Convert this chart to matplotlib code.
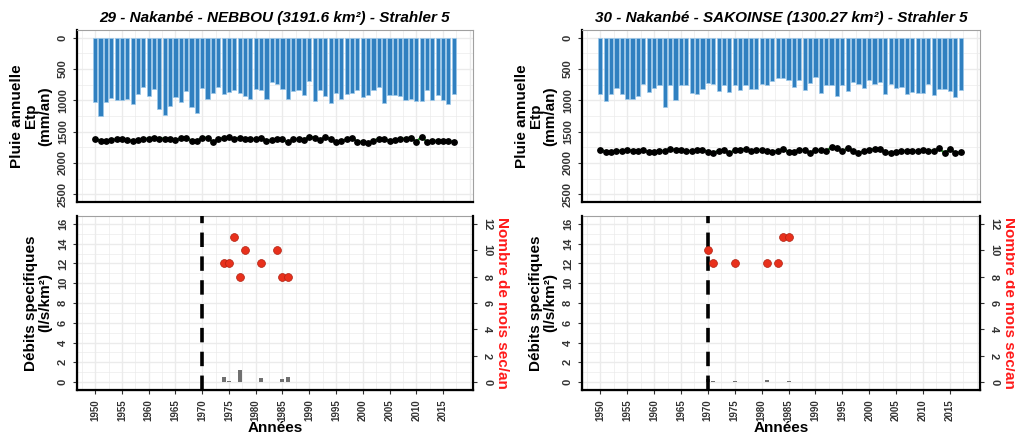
#!/usr/bin/env python3
"""
Pluie annuelle / Etp et debits specifiques - stations 29 et 30 (Nakanbe)
"""

import numpy as np
import matplotlib
matplotlib.use("Agg")
import matplotlib.pyplot as plt
from matplotlib.ticker import MultipleLocator

plt.rcParams['font.family'] = ['Liberation Sans', 'DejaVu Sans']

years = list(range(1950, 2018))

# ---- station 29 : NEBBOU ----
title_29 = "29 - Nakanbé - NEBBOU (3191.6 km²) - Strahler 5"
pluie_29 = [1025, 1250, 1025, 963, 1000, 990, 973, 1057, 900, 790,
            936, 815, 1131, 1241, 1084, 952, 1025, 857, 1105, 1210,
            805, 973, 884, 790, 894, 868, 842, 884, 926, 978,
            820, 842, 973, 710, 742, 820, 973, 857, 831, 910,
            689, 1015, 831, 926, 1041, 884, 978, 900, 884, 842,
            952, 910, 842, 794, 1041, 910, 910, 936, 990, 973,
            1015, 1015, 842, 1000, 910, 1000, 1057, 894]
etp_29 = [1610, 1646, 1646, 1636, 1620, 1620, 1636, 1646, 1636, 1620,
          1610, 1594, 1610, 1610, 1620, 1636, 1604, 1594, 1646, 1646,
          1604, 1594, 1673, 1610, 1604, 1578, 1620, 1594, 1610, 1620,
          1620, 1594, 1646, 1636, 1610, 1620, 1673, 1620, 1620, 1631,
          1578, 1594, 1636, 1583, 1620, 1673, 1657, 1620, 1594, 1662,
          1662, 1683, 1646, 1610, 1620, 1646, 1631, 1620, 1610, 1594,
          1662, 1583, 1662, 1646, 1646, 1657, 1657, 1662]
debit_years_29 = [1974, 1975, 1977, 1978, 1981, 1984, 1985, 1986]
debit_29 = [0.5, 0.15, 1.25, 0.03, 0.45, 0.05, 0.35, 0.5]
sec_years_29 = [1974, 1975, 1976, 1977, 1978, 1981, 1984, 1985, 1986]
mois_sec_29 = [9, 9, 11, 8, 10, 9, 10, 8, 8]

# ---- station 30 : SAKOINSE ----
title_30 = "30 - Nakanbé - SAKOINSE (1300.27 km²) - Strahler 5"
pluie_30 = [905, 1010, 894, 799, 894, 984, 973, 931, 735, 868,
            799, 762, 1106, 751, 1000, 762, 762, 883, 894, 815,
            720, 735, 857, 762, 868, 751, 841, 762, 815, 815,
            746, 762, 698, 640, 640, 672, 788, 682, 841, 725,
            630, 878, 762, 751, 936, 762, 852, 709, 746, 799,
            682, 746, 709, 905, 735, 804, 788, 894, 868, 878,
            878, 746, 910, 815, 825, 852, 947, 831]
etp_30 = [1788, 1820, 1830, 1809, 1804, 1794, 1804, 1804, 1794, 1830,
          1830, 1815, 1804, 1778, 1794, 1794, 1804, 1815, 1794, 1788,
          1820, 1841, 1804, 1794, 1846, 1794, 1788, 1778, 1815, 1788,
          1794, 1804, 1820, 1804, 1778, 1820, 1820, 1794, 1794, 1841,
          1794, 1794, 1804, 1752, 1767, 1815, 1762, 1804, 1841, 1815,
          1788, 1778, 1778, 1830, 1841, 1830, 1815, 1804, 1804, 1815,
          1794, 1804, 1804, 1767, 1841, 1778, 1841, 1830]
debit_years_30 = [1970, 1971, 1975, 1981, 1983, 1984, 1985]
debit_30 = [0.3, 0.08, 0.1, 0.25, 0.04, 0.04, 0.1]
sec_years_30 = [1970, 1971, 1975, 1981, 1983, 1984, 1985]
mois_sec_30 = [10, 9, 9, 9, 9, 11, 11]

rupture_year = 1970

BLUE = '#3080C0'
GRID = '#EBEBEB'
TICKC = '#333333'

fig = plt.figure(figsize=(10.15, 4.37), dpi=100)
W, H = 1015, 437


def px_axes(x0, y0, x1, y1):
    return fig.add_axes([x0 / W, 1 - y1 / H, (x1 - x0) / W, (y1 - y0) / H])


def style_grid(ax):
    ax.set_axisbelow(True)
    ax.grid(True, which='major', color=GRID, linewidth=1.0)
    ax.grid(True, which='minor', color=GRID, linewidth=0.5)
    ax.xaxis.set_major_locator(MultipleLocator(5))
    ax.xaxis.set_minor_locator(MultipleLocator(2.5))
    ax.set_xlim(1946.6, 2020.6)
    for s in ['top', 'right']:
        ax.spines[s].set_color('#A0A0A0')
        ax.spines[s].set_linewidth(0.8)
    for s in ['left', 'bottom']:
        ax.spines[s].set_color('black')
        ax.spines[s].set_linewidth(1.6)
    ax.tick_params(which='minor', length=0)
    ax.tick_params(which='major', length=3, color=TICKC, labelcolor=TICKC,
                   labelsize=8)


def draw_station(x0, x1, title, pluie, etp, dyears, debit, syears, msec):
    # ---- top panel ----
    ax1 = px_axes(x0, 30, x1, 202)
    ax1.bar(years, pluie, width=0.78, color=BLUE, edgecolor='#9CC8EA',
            linewidth=0.5)
    ax1.plot(years, etp, color='#2CA02C', linewidth=1.6, zorder=3)
    ax1.scatter(years, etp, s=15, color='black', zorder=4)
    ax1.set_ylim(2625, -125)
    ax1.yaxis.set_major_locator(MultipleLocator(500))
    ax1.yaxis.set_minor_locator(MultipleLocator(250))
    style_grid(ax1)
    ax1.tick_params(axis='x', which='both', length=0, labelbottom=False)
    for lab in ax1.get_yticklabels():
        lab.set_rotation(90)
        lab.set_va('center')
        lab.set_fontweight('bold')
    ax1.set_ylabel("Pluie annuelle\nEtp\n(mm/an)", fontsize=11,
                   fontweight='bold', linespacing=1.0, labelpad=4)
    ax1.set_title(title, fontsize=11, fontweight='bold', style='italic',
                  pad=6)

    # ---- bottom panel ----
    ax2 = px_axes(x0, 216, x1, 390)
    ax2.bar(dyears, debit, width=0.75, color='#707070', zorder=2)
    ax2.axvline(rupture_year, color='black', linewidth=2.6,
                dashes=(4, 2.6), zorder=3)
    ax2.set_ylim(-0.8, 16.8)
    ax2.yaxis.set_major_locator(MultipleLocator(2))
    ax2.yaxis.set_minor_locator(MultipleLocator(1))
    style_grid(ax2)
    for lab in ax2.get_yticklabels():
        lab.set_rotation(90)
        lab.set_va('center')
        lab.set_fontweight('bold')
    ax2.set_xticks(list(range(1950, 2016, 5)))
    ax2.set_xticklabels([str(y) for y in range(1950, 2016, 5)], rotation=90,
                        fontweight='bold', fontsize=7, color=TICKC)
    ax2.set_ylabel("Débits specifiques\n(l/s/km²)", fontsize=11,
                   fontweight='bold', linespacing=1.0, labelpad=4)
    ax2.set_xlabel("Années", fontsize=11, fontweight='bold', labelpad=0)

    ax3 = ax2.twinx()
    ax3.set_ylim(-0.6, 12.6)
    ax3.scatter(syears, msec, s=32, color='#E8301C', edgecolor='#B02010',
                linewidth=0.5, zorder=5)
    ax3.yaxis.set_major_locator(MultipleLocator(2))
    ax3.spines['right'].set_color('black')
    ax3.spines['right'].set_linewidth(1.6)
    ax3.spines['top'].set_visible(False)
    ax3.tick_params(axis='y', length=3, color=TICKC, labelcolor=TICKC,
                    labelsize=8)
    for lab in ax3.get_yticklabels():
        lab.set_rotation(270)
        lab.set_va('center')
        lab.set_fontweight('bold')
    ax3.set_ylabel("Nombre de mois sec/an", fontsize=11, fontweight='bold',
                   color='#FF1A1A', rotation=270, labelpad=12)


draw_station(77, 473, title_29, pluie_29, etp_29, debit_years_29, debit_29,
             sec_years_29, mois_sec_29)
draw_station(582, 980, title_30, pluie_30, etp_30, debit_years_30, debit_30,
             sec_years_30, mois_sec_30)

plt.savefig('out.png', dpi=100)
print("saved out.png")
